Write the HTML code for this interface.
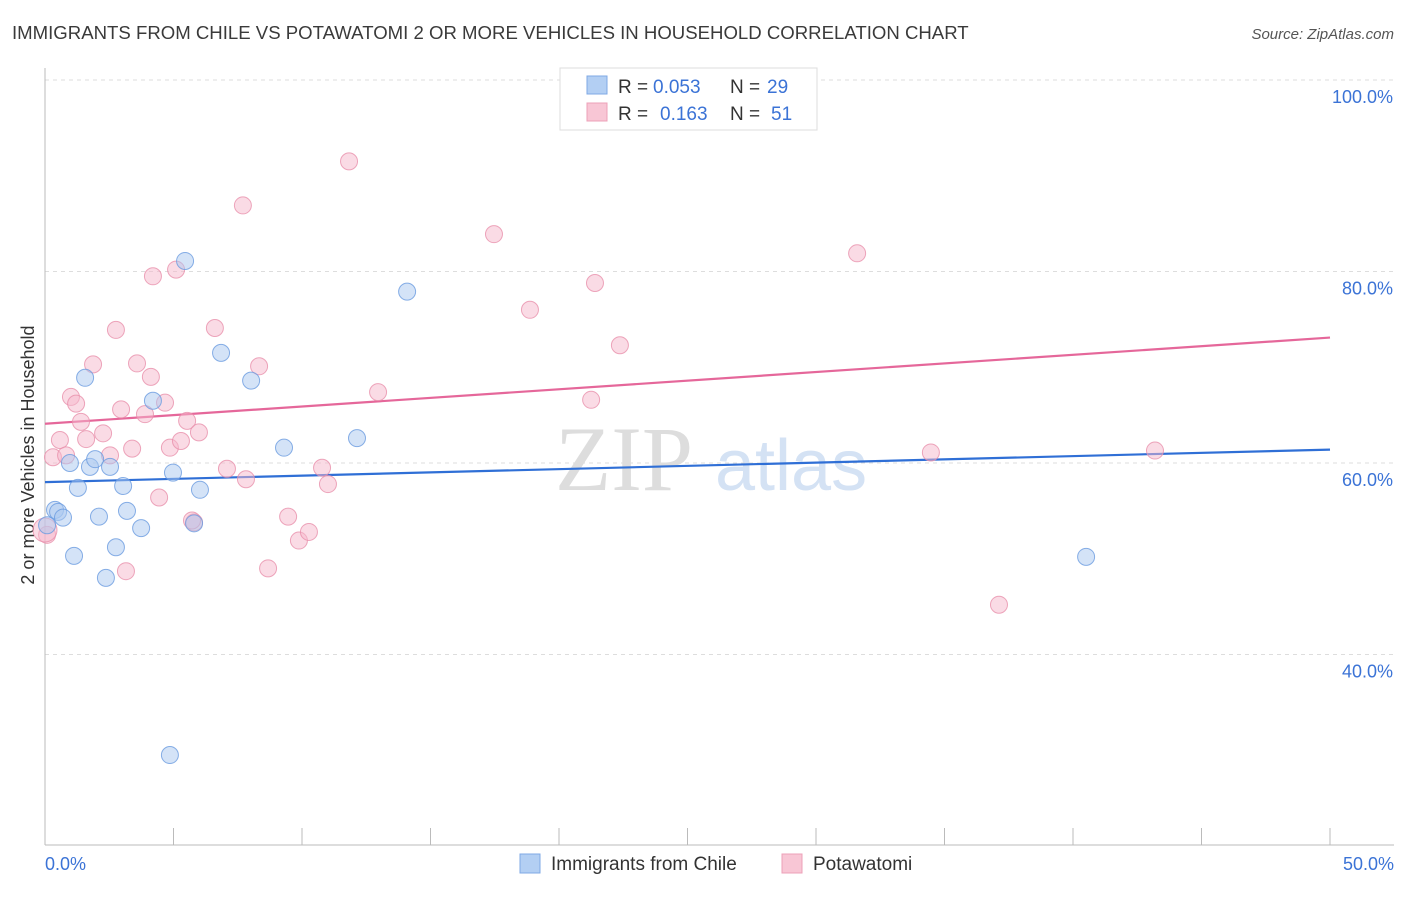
<!DOCTYPE html>
<html><head><meta charset="utf-8"><style>
body{margin:0;background:#fff;font-family:"Liberation Sans",sans-serif}
</style></head><body>
<svg width="1406" height="892" xmlns="http://www.w3.org/2000/svg" font-family="Liberation Sans, sans-serif">
<text x="12" y="39" font-size="18.6" fill="#3a3a3a">IMMIGRANTS FROM CHILE VS POTAWATOMI 2 OR MORE VEHICLES IN HOUSEHOLD CORRELATION CHART</text>
<text x="1394" y="39" font-size="15" fill="#555" font-style="italic" text-anchor="end">Source: ZipAtlas.com</text>
<text transform="translate(34,455) rotate(-90)" font-size="18" fill="#333" text-anchor="middle">2 or more Vehicles in Household</text>
<g><text x="555" y="490" font-size="92" fill="#ddd" font-family="Liberation Serif, serif">ZIP</text><text x="715" y="490" font-size="72" fill="#d4e2f4">atlas</text></g>
<g id="grid"></g><g id="axes"></g><g id="trends"></g><g id="pts"></g>
<g>
<rect x="560" y="68" width="257" height="62" fill="#fff" stroke="#ddd"/>
<rect x="587" y="76" width="20" height="18" fill="#b3cff3" stroke="#7fa8e4"/>
<rect x="587" y="103" width="20" height="18" fill="#f8c6d5" stroke="#eda0b8"/>
<text x="618" y="93" font-size="19" fill="#333">R =</text>
<text x="653" y="93" font-size="19" fill="#3b73d6">0.053</text>
<text x="730" y="93" font-size="19" fill="#333">N =</text>
<text x="767" y="93" font-size="19" fill="#3b73d6">29</text>
<text x="618" y="120" font-size="19" fill="#333">R =</text>
<text x="660" y="120" font-size="19" fill="#3b73d6">0.163</text>
<text x="730" y="120" font-size="19" fill="#333">N =</text>
<text x="771" y="120" font-size="19" fill="#3b73d6">51</text>
</g>
<g>
<rect x="520" y="854" width="20" height="19" fill="#b3cff3" stroke="#7fa8e4"/>
<text x="551" y="870" font-size="19" fill="#333">Immigrants from Chile</text>
<rect x="782" y="854" width="20" height="19" fill="#f8c6d5" stroke="#eda0b8"/>
<text x="813" y="870" font-size="19" fill="#333">Potawatomi</text>
</g>
</svg>
<script>
const yTicks=[100,80,60,40];
const xTickLabels=["0.0%","50.0%"];
const chileX=[0.39,0.51,0.70,0.08,0.97,1.13,1.28,1.56,1.75,1.95,2.10,2.37,2.53,2.76,3.04,3.19,3.74,4.20,4.86,4.98,5.45,5.80,6.03,6.85,8.02,9.30,12.14,14.09,40.51];
const chileY=[55.1,54.9,54.3,53.5,60.0,50.3,57.4,68.9,59.6,60.4,54.4,48.0,59.6,51.2,57.6,55.0,53.2,66.5,29.5,59.0,81.1,53.7,57.2,71.5,68.6,61.6,62.6,77.9,50.2];
const potaX=[0.08,0.31,0.58,0.82,1.01,1.21,1.40,1.60,1.87,2.26,2.53,2.76,2.96,3.15,3.39,3.58,3.89,4.12,4.20,4.44,4.67,4.86,5.10,5.29,5.53,5.80,5.99,6.61,7.08,7.70,7.82,8.33,8.68,9.46,9.88,10.27,10.78,11.01,11.83,12.96,17.47,18.87,21.25,21.40,22.37,31.60,34.47,37.12,43.19,0.0,5.72];
const potaY=[52.5,60.6,62.4,60.8,66.9,66.2,64.3,62.5,70.3,63.1,60.8,73.9,65.6,48.7,61.5,70.4,65.1,69.0,79.5,56.4,66.3,61.6,80.2,62.3,64.4,53.8,63.2,74.1,59.4,86.9,58.3,70.1,49.0,54.4,51.9,52.8,59.5,57.8,91.5,67.4,83.9,76.0,66.6,78.8,72.3,81.9,61.1,45.2,61.3,53.0,54.0];
const chileTrend=[58.0,61.4];
const potaTrend=[64.1,73.1];
const X=v=>45+v*25.7, Y=v=>80+(100-v)*9.575;
const NS="http://www.w3.org/2000/svg";
function mk(p,t,a){const e=document.createElementNS(NS,t);for(const k in a)e.setAttribute(k,a[k]);document.getElementById(p).appendChild(e);return e;}
yTicks.forEach(v=>{
 const l=mk('grid','line',{x1:45,x2:1394,y1:Y(v),y2:Y(v),stroke:'#ddd','stroke-dasharray':'4,4'});
 
 
 const t=mk('grid','text',{x:1393,y:Y(v)+23,'font-size':18,fill:'#3b73d6','text-anchor':'end'});t.textContent=v.toFixed(1)+'%';
 
 
});
mk('axes','line',{x1:45,x2:45,y1:68,y2:845,stroke:'#bbb'});
mk('axes','line',{x1:45,x2:1394,y1:845,y2:845,stroke:'#bbb'});
for(let i=0;i<=10;i++){const t=mk('axes','line',{x1:X(i*5),x2:X(i*5),y1:828,y2:845,stroke:'#bbb'});
 
 }
[[0,45,'start'],[50,1394,'end']].forEach((d,i)=>{const t=mk('axes','text',{x:d[1],y:870,'font-size':18,fill:'#3b73d6','text-anchor':d[2]});t.textContent=xTickLabels[i];
 
 });
function dots(xs,ys,fill,stroke,name){xs.forEach((x,i)=>{const c=mk('pts','circle',{cx:X(x),cy:Y(ys[i]),r:(x===0?12:8.5),fill:fill,'fill-opacity':0.5,stroke:stroke,'stroke-width':1,'stroke-opacity':0.8});
 
 });}
dots(potaX,potaY,'#f5b8cb','#e890ab','potawatomi-point');
dots(chileX,chileY,'#a9c8f0','#6a9be0','chile-point');
const t1=mk('trends','line',{x1:X(0),x2:X(50),y1:Y(chileTrend[0]),y2:Y(chileTrend[1]),stroke:'#2f6fd6','stroke-width':2.2});


const t2=mk('trends','line',{x1:X(0),x2:X(50),y1:Y(potaTrend[0]),y2:Y(potaTrend[1]),stroke:'#e5679a','stroke-width':2.2});


</script>
</body></html>
